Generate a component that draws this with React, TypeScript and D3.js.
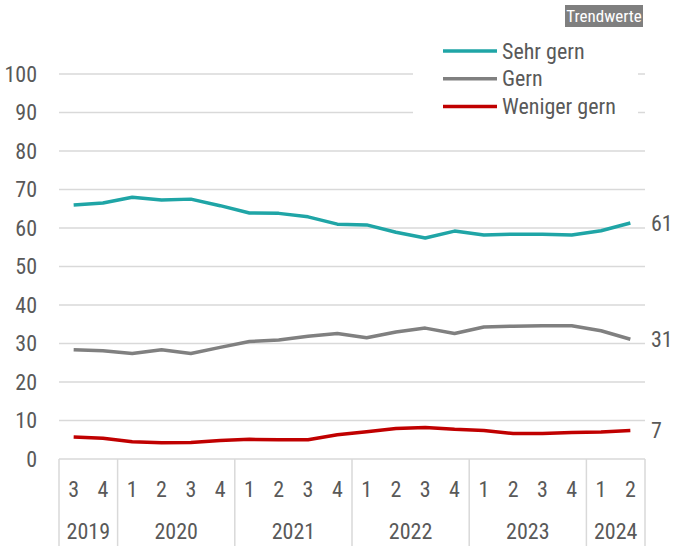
import React from 'react';
import * as d3 from 'd3';

// quarters 2019 Q3 .. 2024 Q2
const quarters = ['3', '4', '1', '2', '3', '4', '1', '2', '3', '4', '1', '2', '3', '4', '1', '2', '3', '4', '1', '2'];
const years = ['2019', '2020', '2021', '2022', '2023', '2024'];
const quartersPerYear = [2, 4, 4, 4, 4, 2];

const sehrGern = [66.0, 66.5, 68.0, 67.3, 67.5, 65.8, 63.9, 63.8, 62.9, 61.0, 60.8, 58.9, 57.4, 59.2, 58.2, 58.4, 58.4, 58.2, 59.3, 61.3];
const gern = [28.4, 28.1, 27.4, 28.4, 27.4, 29.0, 30.5, 30.9, 31.9, 32.6, 31.5, 33.0, 34.0, 32.6, 34.3, 34.5, 34.6, 34.6, 33.3, 31.1];
const wenigerGern = [5.7, 5.4, 4.5, 4.2, 4.3, 4.8, 5.1, 5.0, 5.0, 6.3, 7.1, 7.9, 8.2, 7.7, 7.4, 6.6, 6.6, 6.9, 7.0, 7.4];

const seriesNames = ['Sehr gern', 'Gern', 'Weniger gern'];
const seriesColors = ['#1fa5a6', '#808080', '#c00000'];
const endLabels = ['61', '31', '7'];
const yTicks = [0, 10, 20, 30, 40, 50, 60, 70, 80, 90, 100];

const FONT = '"Liberation Sans Narrow", "Arial Narrow", "Roboto Condensed", sans-serif';
const TEXT = '#595959';
const GRID = '#d9d9d9';

export default function App() {
  const w = 675;
  const h = 546;
  const left = 59;
  const right = 645;

  const x = d3.scaleBand<number>()
    .domain(d3.range(quarters.length))
    .range([left, right])
    .padding(0);
  const y = d3.scaleLinear().domain([0, 100]).range([459, 74]);
  const cx = (i: number) => (x(i) as number) + x.bandwidth() / 2;

  const line = d3.line<number>()
    .x((d, i) => cx(i))
    .y(d => y(d));

  const allSeries = [sehrGern, gern, wenigerGern];

  // year boundaries
  const bounds: number[] = [0];
  quartersPerYear.forEach(n => bounds.push(bounds[bounds.length - 1] + n));
  const bx = (k: number) => (k < quarters.length ? (x(k) as number) : right);

  return (
    <svg width={w} height={h} style={{ position: 'fixed', left: 0, top: 0, background: '#fff' }} fontFamily={FONT}>
      {/* gridlines */}
      {yTicks.map(t => (
        <line key={t} x1={left} x2={right} y1={y(t)} y2={y(t)} stroke={GRID} strokeWidth={1.5} />
      ))}
      {yTicks.map(t => (
        <text key={'l' + t} x={37} y={y(t)} dy="0.35em" textAnchor="end" fontSize={22} fill={TEXT}>{t}</text>
      ))}

      {/* x axis box */}
      {bounds.map(k => (
        <line key={'b' + k} x1={bx(k)} x2={bx(k)} y1={y(0)} y2={h} stroke={GRID} strokeWidth={1.5} />
      ))}
      {quarters.map((q, i) => (
        <text key={'q' + i} x={cx(i)} y={489} dy="0.35em" textAnchor="middle" fontSize={22} fill={TEXT}>{q}</text>
      ))}
      {years.map((yr, k) => (
        <text key={yr} x={(bx(bounds[k]) + bx(bounds[k + 1])) / 2} y={531} dy="0.35em" textAnchor="middle" fontSize={22} fill={TEXT}>{yr}</text>
      ))}

      {/* lines */}
      {allSeries.map((s, k) => (
        <path key={k} d={line(s) || ''} fill="none" stroke={seriesColors[k]} strokeWidth={3.5} strokeLinejoin="round" />
      ))}
      {allSeries.map((s, k) => (
        <text key={'e' + k} x={651} y={y(s[s.length - 1])} dy="0.35em" fontSize={22} fill={TEXT}>{endLabels[k]}</text>
      ))}

      {/* legend */}
      <rect x={413} y={36} width={225} height={85} fill="#fff" />
      {seriesNames.map((n, k) => (
        <g key={n} transform={`translate(443,${51 + k * 27.7})`}>
          <line x1={0} x2={54} y1={0} y2={0} stroke={seriesColors[k]} strokeWidth={3.5} />
          <text x={59} y={0} dy="0.35em" fontSize={22} fill={TEXT}>{n}</text>
        </g>
      ))}

      {/* Trendwerte badge */}
      <rect x={565} y={5} width={78} height={22} fill="#7f7f7f" />
      <text x={604} y={16} dy="0.35em" textAnchor="middle" fontSize={17} fill="#fff">Trendwerte</text>
    </svg>
  );
}
